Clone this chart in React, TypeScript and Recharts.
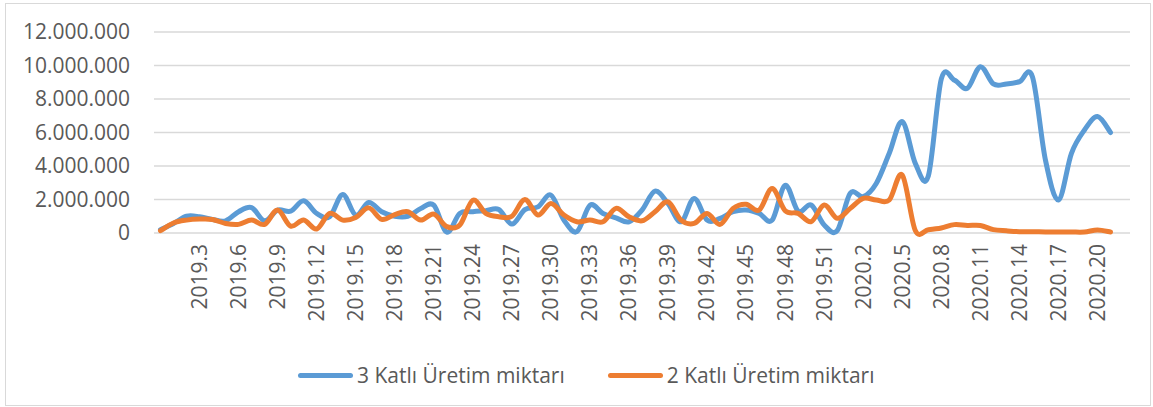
import React from "react";
import { LineChart, Line, XAxis, YAxis, CartesianGrid, Legend } from "recharts";

// Hafta etiketleri (ilk kategori Excel'de boş)
const weeks = [
  "", "2019.1", "2019.2", "2019.3", "2019.4", "2019.5", "2019.6", "2019.7", "2019.8", "2019.9",
  "2019.10", "2019.11", "2019.12", "2019.13", "2019.14", "2019.15", "2019.16", "2019.17", "2019.18", "2019.19",
  "2019.20", "2019.21", "2019.22", "2019.23", "2019.24", "2019.25", "2019.26", "2019.27", "2019.28", "2019.29",
  "2019.30", "2019.31", "2019.32", "2019.33", "2019.34", "2019.35", "2019.36", "2019.37", "2019.38", "2019.39",
  "2019.40", "2019.41", "2019.42", "2019.43", "2019.44", "2019.45", "2019.46", "2019.47", "2019.48", "2019.49",
  "2019.50", "2019.51", "2019.52", "2020.1", "2020.2", "2020.3", "2020.4", "2020.5", "2020.6", "2020.7",
  "2020.8", "2020.9", "2020.10", "2020.11", "2020.12", "2020.13", "2020.14", "2020.15", "2020.16", "2020.17",
  "2020.18", "2020.19", "2020.20", "2020.21",
];

const uretim3Katli = [
  200000, 570000, 1000000, 970000, 810000, 730000, 1270000, 1520000, 730000, 1370000,
  1300000, 1920000, 1170000, 970000, 2300000, 1070000, 1820000, 1270000, 1000000, 1000000,
  1460000, 1660000, 50000, 1170000, 1270000, 1330000, 1400000, 530000, 1400000, 1560000,
  2260000, 770000, 80000, 1660000, 1170000, 910000, 670000, 1370000, 2500000, 1760000,
  670000, 2060000, 770000, 870000, 1270000, 1370000, 1170000, 770000, 2850000, 1300000,
  1670000, 480000, 140000, 2370000, 2170000, 2960000, 4760000, 6650000, 4160000, 3400000,
  9200000, 9130000, 8640000, 9930000, 8900000, 8900000, 9030000, 9330000, 4360000, 1970000,
  4760000, 6150000, 6950000, 6000000,
];

const uretim2Katli = [
  140000, 600000, 770000, 830000, 810000, 570000, 515000, 770000, 515000, 1370000,
  415000, 770000, 240000, 1170000, 770000, 930000, 1500000, 810000, 1100000, 1270000,
  770000, 1130000, 380000, 475000, 1960000, 1170000, 970000, 1000000, 2000000, 1070000,
  1760000, 1070000, 670000, 770000, 670000, 1470000, 970000, 730000, 1270000, 1860000,
  770000, 570000, 1170000, 515000, 1470000, 1720000, 1370000, 2650000, 1330000, 1170000,
  680000, 1670000, 875000, 1470000, 2070000, 1970000, 1970000, 3460000, 150000, 200000,
  300000, 500000, 450000, 450000, 200000, 130000, 80000, 80000, 60000, 60000,
  60000, 60000, 180000, 60000,
];

const yTicks = [0, 2000000, 4000000, 6000000, 8000000, 10000000, 12000000];

const SERIES = [
  { key: "uc", name: "3 Katlı Üretim miktarı", color: "#5b9bd5" },
  { key: "iki", name: "2 Katlı Üretim miktarı", color: "#ed7d31" },
];

const data = weeks.map((w, i) => ({ week: w, uc: uretim3Katli[i], iki: uretim2Katli[i] }));

const FONT = "'Open Sans', sans-serif";
const TEXT = "#595959";

const fmt = (v: number) => String(v).replace(/\B(?=(\d{3})+(?!\d))/g, ".");

// Excel tarzı yumuşatma (Catmull-Rom -> bezier)
const excelCurve = (context: any) => {
  let pts: number[][] = [];
  return {
    areaStart() {},
    areaEnd() {},
    lineStart() {
      pts = [];
    },
    point(x: number, y: number) {
      pts.push([+x, +y]);
    },
    lineEnd() {
      const n = pts.length;
      if (!n) return;
      context.moveTo(pts[0][0], pts[0][1]);
      for (let i = 0; i < n - 1; i++) {
        const p0 = pts[Math.max(0, i - 1)];
        const p1 = pts[i];
        const p2 = pts[i + 1];
        const p3 = pts[Math.min(n - 1, i + 2)];
        context.bezierCurveTo(
          p1[0] + (p2[0] - p0[0]) / 6,
          p1[1] + (p2[1] - p0[1]) / 6,
          p2[0] - (p3[0] - p1[0]) / 6,
          p2[1] - (p3[1] - p1[1]) / 6,
          p2[0],
          p2[1]
        );
      }
    },
  };
};

const WeekTick = (props: any) => {
  const { x, y, payload } = props;
  return (
    <g transform={`translate(${x},${y + 11})`}>
      <text transform="rotate(-90)" textAnchor="end" dy="0.35em" fill={TEXT} fontSize={21} fontFamily={FONT}>
        {payload.value}
      </text>
    </g>
  );
};

const ValueTick = (props: any) => {
  const { y, payload } = props;
  return (
    <text x={130} y={y} dy="0.35em" textAnchor="end" fill={TEXT} fontSize={21} fontFamily={FONT}>
      {fmt(payload.value)}
    </text>
  );
};

const renderLegend = () => (
  <div style={{ display: "flex", alignItems: "center", height: 40, fontFamily: FONT, fontSize: 21, color: TEXT }}>
    {SERIES.map((s, i) => (
      <div key={s.key} style={{ display: "flex", alignItems: "center", marginLeft: i ? 43 : 0 }}>
        <span style={{ display: "inline-block", width: 55, height: 5, borderRadius: 3, background: s.color, marginRight: 4 }} />
        <span>{s.name}</span>
      </div>
    ))}
  </div>
);

const App = () => {
  return (
    <div style={{ position: "absolute", left: 0, top: 0, width: 1153, height: 407, background: "#fff" }}>
      <div
        style={{
          position: "absolute",
          left: 5,
          top: 3,
          width: 1146,
          height: 403,
          border: "1px solid #d9d9d9",
          boxSizing: "border-box",
        }}
      />
      <div style={{ position: "absolute", left: 0, top: 0 }}>
        <LineChart width={1153} height={407} data={data} margin={{ top: 32, right: 23, left: 0, bottom: 12 }}>
          <CartesianGrid vertical={false} stroke="#d9d9d9" strokeWidth={1.5} />
          <XAxis
            dataKey="week"
            interval={2}
            height={122}
            axisLine={false}
            tickLine={false}
            tickSize={0}
            tickMargin={0}
            padding={{ left: 6.5, right: 19.5 }}
            tick={<WeekTick />}
          />
          <YAxis
            width={154}
            domain={[0, 12000000]}
            ticks={yTicks}
            axisLine={false}
            tickLine={false}
            tick={<ValueTick />}
          />
          <Legend
            verticalAlign="bottom"
            content={renderLegend}
            wrapperStyle={{ left: 298, bottom: 12, width: 620, height: 40 }}
          />
          {SERIES.map((s) => (
            <Line
              key={s.key}
              dataKey={s.key}
              name={s.name}
              type={excelCurve as any}
              stroke={s.color}
              strokeWidth={5}
              strokeLinecap="round"
              strokeLinejoin="round"
              dot={false}
              activeDot={false}
              isAnimationActive={false}
            />
          ))}
        </LineChart>
      </div>
    </div>
  );
};

export default App;
